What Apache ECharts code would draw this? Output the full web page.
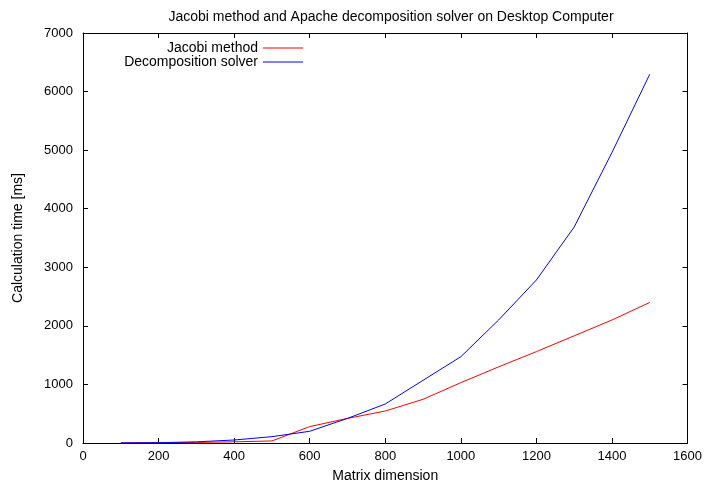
<!DOCTYPE html>
<html>
<head>
<meta charset="utf-8">
<script src="https://cdn.jsdelivr.net/npm/echarts@6/dist/echarts.min.js"></script>
<style>html,body{margin:0;padding:0;background:#fff}#c{width:705px;height:489px}</style>
</head>
<body>
<div id="c"></div>
<script>
const dims = [100, 200, 300, 400, 500, 600, 700, 800, 900, 1000, 1100, 1200, 1300, 1400, 1500];
const jacobi = [2, 5, 10, 20, 35, 280, 420, 546, 746, 1030, 1300, 1560, 1830, 2100, 2400];
const decomposition = [2, 5, 20, 51, 108, 200, 420, 666, 1070, 1473, 2100, 2783, 3688, 4960, 6295];
const xTicks = [0, 1600, 200];
const yTicks = [0, 7000, 1000];

const font = 'Liberation Sans, Arial, Helvetica, sans-serif';
const chart = echarts.init(document.getElementById('c'), null, {renderer: 'canvas'});
const axisLine = {show: true, onZero: false, lineStyle: {color: '#000', width: 1}};
const tick = {show: true, inside: true, length: 5, lineStyle: {color: '#000', width: 1}};
const plain = v => String(v);
chart.setOption({
  animation: false,
  backgroundColor: '#fff',
  title: {
    text: 'Jacobi method and Apache decomposition solver on Desktop Computer',
    left: 386, top: 5, textAlign: 'center',
    textStyle: {fontFamily: font, fontSize: 14, fontWeight: 'normal', color: '#000'}
  },
  legend: {
    orient: 'vertical', align: 'right', right: 397, top: 36,
    itemWidth: 40, itemHeight: 1, itemGap: 0, icon: 'rect',
    textStyle: {fontFamily: font, fontSize: 14, color: '#000'},
    data: ['Jacobi method', 'Decomposition solver']
  },
  grid: {left: 83, right: 17, top: 33, bottom: 46},
  xAxis: [{
    type: 'value', min: xTicks[0], max: xTicks[1], interval: xTicks[2],
    name: 'Matrix dimension', nameLocation: 'middle', nameGap: 26,
    nameTextStyle: {fontFamily: font, fontSize: 14, color: '#000'},
    axisLine: axisLine, axisTick: tick, splitLine: {show: false},
    axisLabel: {fontFamily: font, fontSize: 13, color: '#000', margin: 7, formatter: plain}
  }, {
    type: 'value', position: 'top', min: xTicks[0], max: xTicks[1], interval: xTicks[2],
    axisLine: axisLine, axisTick: tick, splitLine: {show: false}, axisLabel: {show: false}
  }],
  yAxis: [{
    type: 'value', min: yTicks[0], max: yTicks[1], interval: yTicks[2],
    name: 'Calculation time [ms]', nameLocation: 'middle', nameGap: 58,
    nameTextStyle: {fontFamily: font, fontSize: 14, color: '#000'},
    axisLine: axisLine, axisTick: tick, splitLine: {show: false},
    axisLabel: {fontFamily: font, fontSize: 13, color: '#000', margin: 10, formatter: plain}
  }, {
    type: 'value', position: 'right', min: yTicks[0], max: yTicks[1], interval: yTicks[2],
    axisLine: axisLine, axisTick: tick, splitLine: {show: false}, axisLabel: {show: false}
  }],
  series: [{
    name: 'Jacobi method', type: 'line', symbol: 'none', showSymbol: false,
    color: '#ff0000', lineStyle: {color: '#ff0000', width: 1},
    data: dims.map((d, i) => [d, jacobi[i]])
  }, {
    name: 'Decomposition solver', type: 'line', symbol: 'none', showSymbol: false,
    color: '#0000ff', lineStyle: {color: '#0000ff', width: 1},
    data: dims.map((d, i) => [d, decomposition[i]])
  }]
});
</script>
</body>
</html>
